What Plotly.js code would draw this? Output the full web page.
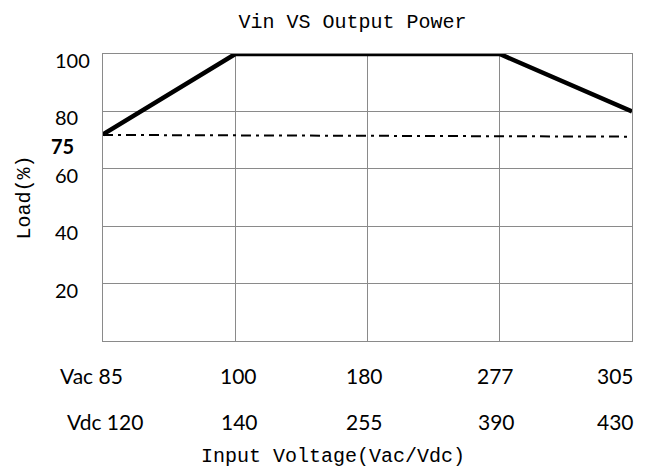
<!DOCTYPE html>
<html><head><meta charset="utf-8">
<script src="https://cdn.plot.ly/plotly-3.0.1.min.js"></script>
<style>html,body{margin:0;padding:0;background:#fff}#chart{width:653px;height:472px}</style>
</head><body><div id="chart"></div>
<script>
// ---- data ----
const vac = ['85', '100', '180', '277', '305'];
const vdc = ['120', '140', '255', '390', '430'];
const loadPct = [72, 100, 100, 100, 80];
const deratingX = ['85', '305'];
const deratingY = [71.8, 71.2];
const deratingLabel = '75';
const yTicks = [20, 40, 60, 80, 100];
const vacPrefix = 'Vac ';
const vdcPrefix = 'Vdc ';
const titleText = 'Vin VS Output Power';
const xTitle = 'Input Voltage(Vac/Vdc)';
const yTitle = 'Load(%)';

// ---- style ----
const row1Shift = [-12, 3, -3, -4, -17];
const row2Shift = [2, 4, -3, -3, -17];
const tickFont = {family: 'Lato, "Open Sans", sans-serif', size: 20, color: '#000'};
const xTickFont = {family: 'Lato, "Open Sans", sans-serif', size: 21, color: '#000'};
const monoFont = {family: '"Liberation Mono", "DejaVu Sans Mono", monospace', size: 20, color: '#000'};
const gridCol = '#8a8a8a';

const traces = [
  {x: vac, y: loadPct, type: 'scatter', mode: 'lines',
   line: {color: '#000', width: 4.5}, cliponaxis: false, hoverinfo: 'skip'},
  {x: deratingX, y: deratingY, type: 'scatter', mode: 'lines',
   line: {color: '#000', width: 2, dash: '10px,5px,3px,5px'}, cliponaxis: false, hoverinfo: 'skip'}
];

const ann = [];
vac.forEach((v, i) => {
  // category axis position = index of the category in vac
  ann.push({x: i, xref: 'x', y: 0, yref: 'paper', yanchor: 'middle', yshift: -34,
    xshift: row1Shift[i], text: (i === 0 ? vacPrefix : '') + v, showarrow: false, font: xTickFont});
  ann.push({x: i, xref: 'x', y: 0, yref: 'paper', yanchor: 'middle', yshift: -80,
    xshift: row2Shift[i], text: (i === 0 ? vdcPrefix : '') + vdc[i], showarrow: false, font: xTickFont});
});
yTicks.forEach(t => {
  ann.push({x: 0, xref: 'paper', xanchor: 'left', xshift: -50, y: t, yref: 'y', yanchor: 'middle',
    yshift: -6, text: String(t), showarrow: false, font: tickFont});
});
ann.push({x: 0, xref: 'paper', xanchor: 'left', xshift: -54, y: deratingY[0], yref: 'y', yanchor: 'middle',
  yshift: -11.5, text: deratingLabel, showarrow: false,
  font: Object.assign({}, tickFont, {weight: 'bold'})});
ann.push({x: (333 - 103) / 529, xref: 'paper', xanchor: 'center', y: 0, yref: 'paper', yanchor: 'middle',
  yshift: -115, text: xTitle, showarrow: false, font: monoFont});

const layout = {
  width: 653, height: 472,
  margin: {l: 103, r: 21, t: 54, b: 131, pad: 0},
  paper_bgcolor: '#fff', plot_bgcolor: '#fff',
  showlegend: false, hovermode: false,
  title: {text: titleText, font: monoFont, x: 352.5 / 653, xref: 'container', xanchor: 'center',
          y: 1 - 21 / 472, yref: 'container', yanchor: 'middle'},
  xaxis: {type: 'category', categoryarray: vac, categoryorder: 'array', range: [0, 4],
          showgrid: true, gridcolor: gridCol, gridwidth: 1, showline: true, mirror: true,
          linecolor: gridCol, linewidth: 1, zeroline: false, ticks: '', showticklabels: false, fixedrange: true},
  yaxis: {range: [0, 100], tickvals: yTicks, showgrid: true, gridcolor: gridCol, gridwidth: 1,
          showline: true, mirror: true, linecolor: gridCol, linewidth: 1, zeroline: false, ticks: '',
          showticklabels: false, fixedrange: true, automargin: true,
          title: {text: yTitle, font: monoFont, standoff: 66}},
  annotations: ann
};

Plotly.newPlot('chart', traces, layout, {staticPlot: true, displayModeBar: false});
</script>
</body></html>
